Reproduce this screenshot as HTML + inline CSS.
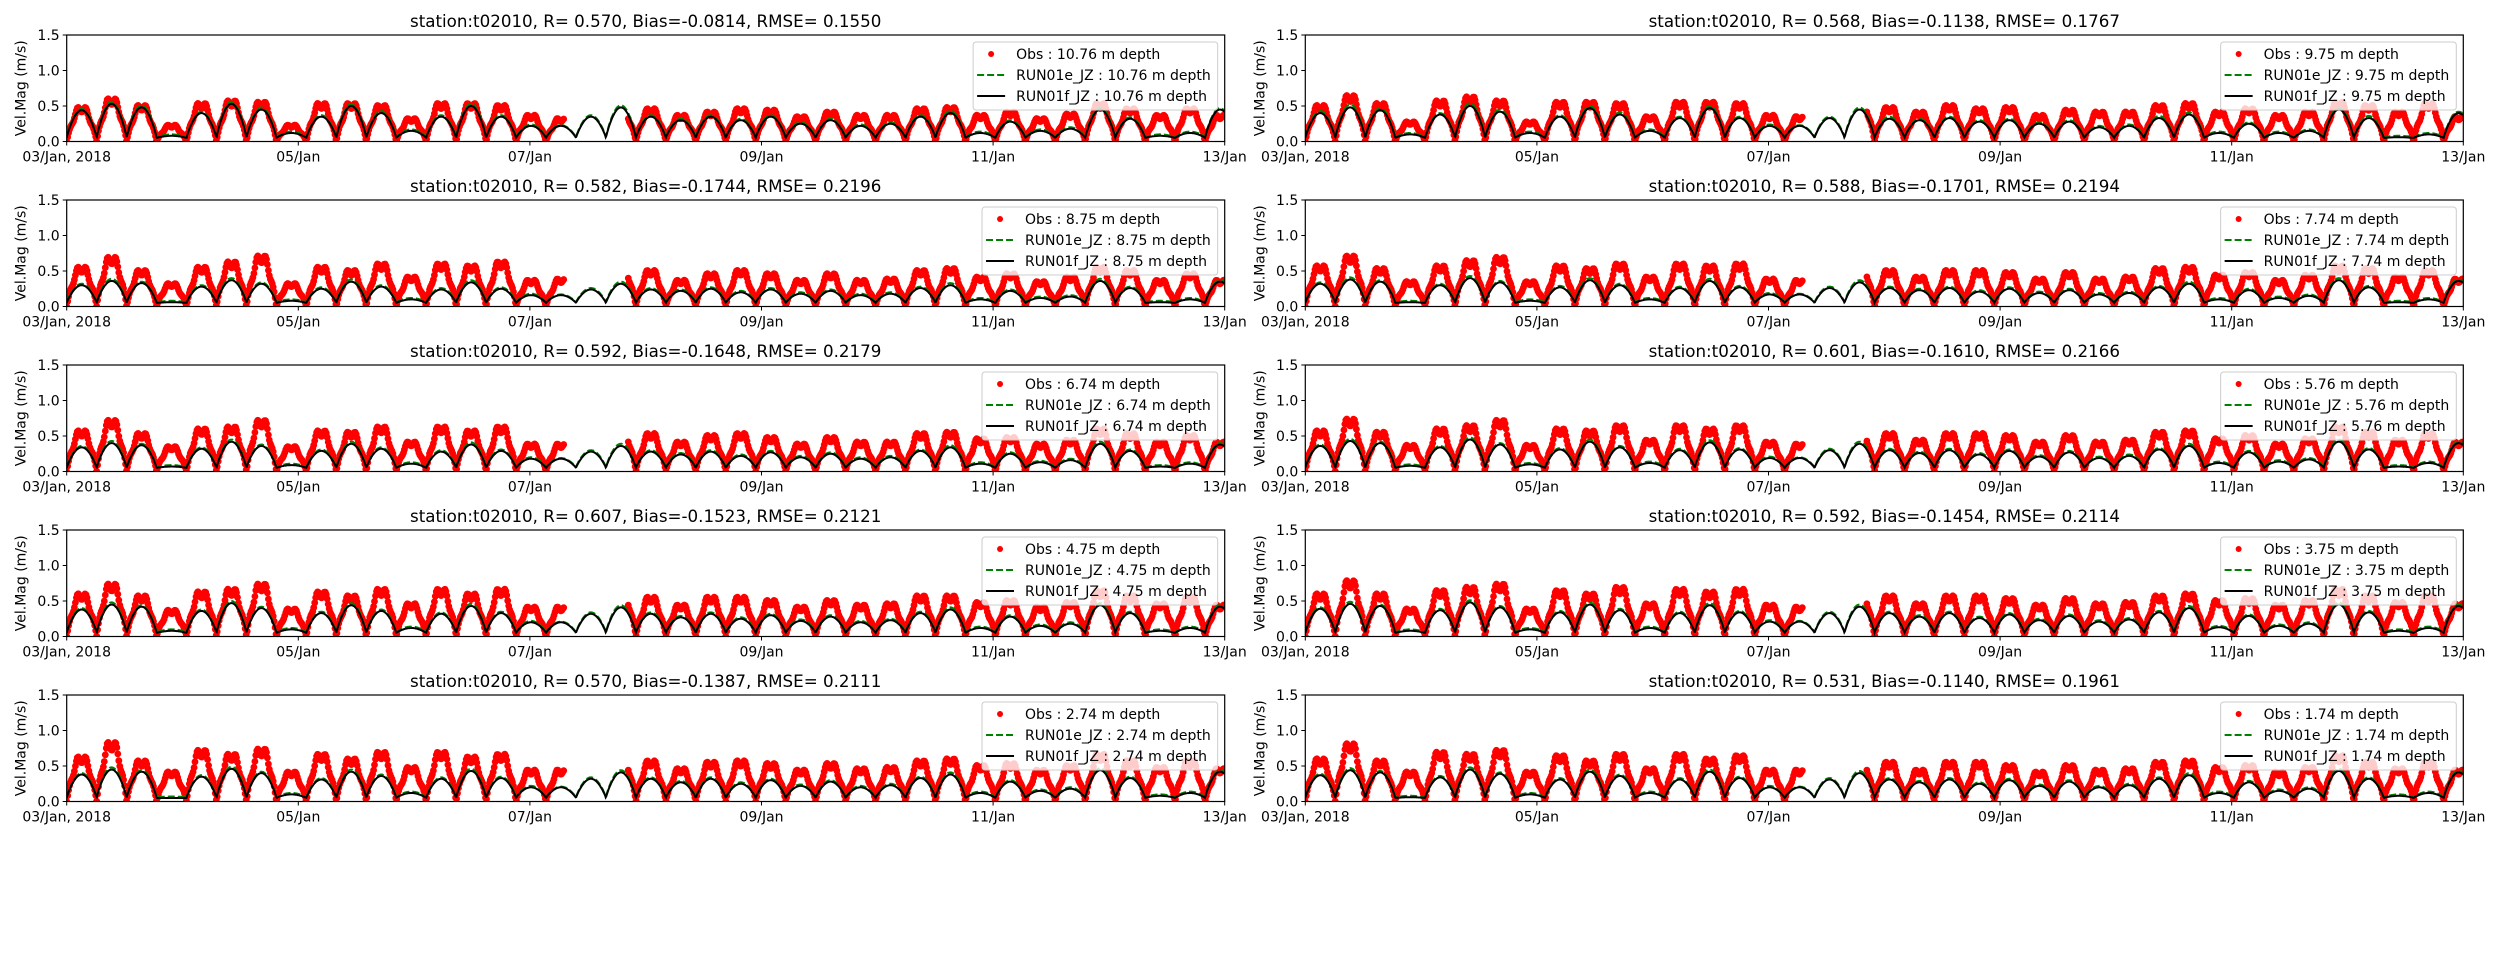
<!DOCTYPE html>
<html><head><meta charset="utf-8"><style>
html,body{margin:0;padding:0;background:#fff}
svg{display:block;font-family:"DejaVu Sans","Liberation Sans",sans-serif}
</style></head><body>
<svg id="fig" width="2500" height="980" viewBox="0 0 2500 980" xmlns="http://www.w3.org/2000/svg"></svg>
<script>
const depths = ["10.76","9.75","8.75","7.74","6.74","5.76","4.75","3.75","2.74","1.74"];
const statR = ["0.570","0.568","0.582","0.588","0.592","0.601","0.607","0.592","0.570","0.531"];
const statBias = ["-0.0814","-0.1138","-0.1744","-0.1701","-0.1648","-0.1610","-0.1523","-0.1454","-0.1387","-0.1140"];
const statRMSE = ["0.1550","0.1767","0.2196","0.2194","0.2179","0.2166","0.2121","0.2114","0.2111","0.1961"];
const yTicks = [0, 0.5, 1.0, 1.5];
const yTickLabels = ["0.0","0.5","1.0","1.5"];
const xTickDays = [0, 2, 4, 6, 8, 10];
const xTickLabels = ["03/Jan, 2018","05/Jan","07/Jan","09/Jan","11/Jan","13/Jan"];
const lobeDays = 0.2587;
const obsGap = [4.3, 4.85];
const modF = [
[.44,.53,.48,.08,.40,.53,.45,.12,.35,.50,.40,.15,.35,.50,.35,.22,.22,.35,.48,.35,.30,.35,.30,.35,.25,.30,.22,.25,.35,.40,.12,.28,.15,.18,.45,.32,.08,.12,.45],
[.40,.48,.44,.10,.38,.50,.42,.12,.35,.47,.38,.15,.33,.47,.33,.22,.22,.33,.45,.32,.30,.33,.28,.30,.25,.28,.20,.22,.33,.38,.12,.25,.12,.15,.45,.33,.06,.10,.40],
[.30,.36,.33,.06,.28,.37,.32,.08,.25,.35,.28,.10,.24,.34,.25,.16,.16,.24,.32,.24,.22,.25,.20,.24,.18,.22,.16,.18,.26,.30,.10,.22,.12,.14,.36,.26,.06,.10,.35],
[.32,.38,.35,.06,.30,.40,.34,.08,.27,.37,.30,.10,.26,.36,.27,.17,.17,.26,.34,.26,.23,.26,.21,.25,.19,.23,.17,.19,.27,.32,.10,.23,.12,.15,.37,.27,.06,.10,.36],
[.34,.40,.37,.07,.32,.42,.36,.09,.29,.39,.32,.11,.28,.38,.29,.18,.18,.28,.36,.28,.24,.28,.22,.27,.20,.25,.18,.20,.29,.34,.11,.25,.13,.16,.39,.29,.07,.11,.38],
[.36,.43,.40,.08,.34,.45,.38,.10,.31,.42,.34,.12,.30,.41,.31,.19,.19,.30,.39,.30,.26,.30,.24,.29,.21,.27,.19,.22,.31,.36,.12,.27,.14,.17,.42,.31,.07,.12,.40],
[.38,.45,.42,.08,.36,.47,.40,.10,.33,.44,.36,.12,.32,.43,.33,.20,.20,.32,.41,.32,.27,.32,.25,.30,.22,.28,.20,.23,.33,.38,.12,.28,.15,.18,.44,.33,.08,.12,.42],
[.39,.46,.43,.08,.37,.48,.41,.10,.34,.45,.37,.12,.33,.44,.34,.21,.21,.33,.42,.33,.28,.33,.26,.31,.23,.29,.21,.24,.34,.40,.13,.29,.15,.18,.45,.34,.08,.12,.43],
[.38,.45,.42,.05,.35,.46,.40,.10,.31,.42,.36,.12,.32,.43,.33,.20,.20,.32,.41,.32,.27,.32,.25,.30,.22,.28,.20,.23,.33,.38,.12,.28,.15,.18,.44,.33,.08,.12,.42],
[.37,.44,.41,.06,.34,.45,.39,.10,.31,.42,.36,.12,.31,.42,.33,.20,.20,.31,.40,.31,.27,.31,.25,.30,.22,.28,.20,.23,.32,.37,.12,.27,.15,.18,.43,.32,.08,.12,.41]
];
const modE = [
[.46,.56,.51,.10,.42,.56,.48,.14,.37,.53,.43,.17,.37,.53,.37,.24,.23,.37,.51,.37,.32,.37,.32,.37,.27,.32,.24,.27,.37,.43,.14,.30,.17,.20,.48,.34,.10,.14,.47],
[.43,.52,.47,.12,.40,.54,.45,.14,.37,.50,.41,.17,.35,.50,.35,.24,.23,.35,.48,.35,.32,.35,.30,.32,.27,.30,.22,.24,.36,.41,.14,.27,.14,.17,.48,.36,.08,.12,.42],
[.32,.39,.35,.08,.30,.40,.34,.10,.27,.38,.30,.12,.26,.37,.27,.18,.17,.26,.35,.26,.24,.27,.22,.26,.20,.24,.18,.20,.28,.33,.12,.24,.14,.16,.39,.28,.08,.12,.37],
[.34,.41,.37,.08,.32,.43,.36,.10,.29,.40,.32,.12,.28,.39,.29,.19,.18,.28,.37,.28,.25,.28,.23,.27,.21,.25,.19,.21,.29,.35,.12,.25,.14,.17,.40,.29,.08,.12,.38],
[.36,.43,.39,.09,.34,.45,.38,.11,.31,.42,.34,.13,.30,.41,.31,.20,.19,.30,.39,.30,.26,.30,.24,.29,.22,.27,.20,.22,.31,.37,.13,.27,.15,.18,.42,.31,.09,.13,.40],
[.38,.46,.42,.10,.36,.48,.40,.12,.33,.45,.36,.14,.32,.44,.33,.21,.20,.32,.42,.32,.28,.32,.26,.31,.23,.29,.21,.24,.33,.39,.14,.29,.16,.19,.45,.33,.09,.14,.42],
[.40,.48,.44,.10,.38,.50,.42,.12,.35,.47,.38,.14,.34,.46,.35,.22,.21,.34,.44,.34,.29,.34,.27,.32,.24,.30,.22,.25,.35,.41,.14,.30,.17,.20,.47,.35,.10,.14,.44],
[.41,.49,.45,.10,.39,.51,.43,.12,.36,.48,.39,.14,.35,.47,.36,.23,.22,.35,.45,.35,.30,.35,.28,.33,.25,.31,.23,.26,.36,.43,.15,.31,.17,.20,.48,.36,.10,.14,.45],
[.40,.48,.44,.07,.37,.49,.42,.12,.33,.45,.38,.14,.34,.46,.35,.22,.21,.34,.44,.34,.29,.34,.27,.32,.24,.30,.22,.25,.35,.41,.14,.30,.17,.20,.47,.35,.10,.14,.44],
[.39,.47,.43,.08,.36,.48,.41,.12,.33,.45,.38,.14,.33,.45,.35,.22,.21,.33,.43,.33,.29,.33,.27,.32,.24,.30,.22,.25,.34,.40,.14,.29,.17,.20,.46,.34,.10,.14,.43]
];
const obsPk = [
[.52,.65,.55,.25,.58,.62,.60,.25,.58,.58,.55,.35,.58,.58,.55,.40,.35,.38,.52,.50,.40,.45,.50,.48,.38,.45,.40,.40,.50,.52,.40,.45,.35,.42,.58,.50,.40,.50,.40],
[.55,.70,.58,.30,.62,.68,.62,.30,.60,.60,.58,.38,.60,.60,.58,.40,.38,.40,.68,.52,.45,.55,.50,.52,.40,.48,.45,.45,.55,.58,.45,.50,.40,.45,.60,.55,.45,.58,.38],
[.60,.75,.55,.35,.60,.68,.77,.35,.60,.55,.65,.45,.65,.62,.68,.40,.42,.35,.65,.55,.40,.50,.55,.50,.40,.50,.40,.42,.55,.58,.45,.50,.38,.45,.60,.55,.40,.50,.40],
[.62,.77,.58,.38,.62,.70,.75,.38,.62,.58,.65,.45,.65,.62,.65,.42,.40,.38,.68,.55,.45,.55,.55,.52,.42,.52,.42,.45,.58,.60,.48,.52,.40,.48,.62,.58,.45,.55,.42],
[.62,.78,.58,.38,.65,.68,.78,.38,.62,.60,.68,.45,.68,.62,.68,.42,.42,.38,.68,.58,.45,.55,.58,.52,.42,.52,.45,.45,.58,.60,.50,.52,.42,.48,.65,.58,.45,.55,.45],
[.62,.80,.60,.40,.65,.70,.78,.40,.65,.62,.70,.48,.70,.65,.70,.45,.42,.40,.70,.58,.48,.58,.58,.55,.45,.55,.45,.48,.60,.62,.50,.55,.42,.50,.68,.60,.48,.58,.45],
[.65,.80,.62,.40,.68,.72,.80,.42,.68,.62,.72,.50,.72,.65,.72,.45,.45,.40,.72,.60,.48,.60,.60,.55,.45,.55,.48,.50,.62,.62,.52,.55,.45,.52,.70,.62,.50,.60,.48],
[.65,.85,.65,.42,.70,.75,.80,.42,.70,.65,.75,.50,.72,.68,.72,.48,.45,.42,.75,.62,.50,.62,.62,.58,.48,.58,.50,.52,.62,.65,.55,.58,.48,.55,.72,.62,.52,.62,.50],
[.68,.90,.62,.45,.78,.72,.80,.45,.72,.65,.75,.52,.75,.68,.72,.48,.48,.42,.72,.62,.50,.60,.62,.58,.48,.58,.50,.52,.62,.65,.55,.58,.48,.55,.72,.62,.52,.62,.50],
[.65,.88,.62,.45,.75,.72,.78,.45,.70,.62,.72,.50,.72,.65,.70,.48,.48,.42,.72,.60,.48,.60,.60,.55,.45,.55,.48,.50,.60,.62,.52,.55,.45,.52,.70,.60,.50,.60,.48]
];

const NS = "http://www.w3.org/2000/svg";
const svg = document.getElementById('fig');
function mk(tag, attrs, parent){
  const e = document.createElementNS(NS, tag);
  for (const k in attrs) e.setAttribute(k, attrs[k]);
  (parent||svg).appendChild(e);
  return e;
}
const colX = [66.7, 1305.3];
const plotW = 1158;
const plotH = 106.5;
const rowTop = [35, 200, 365, 530, 695];
const nDays = 10;

function lobeVal(peaks, t, minV, pw){
  const k = Math.floor(t / lobeDays);
  const u = (t - k*lobeDays)/lobeDays;
  const p = peaks[Math.min(k, peaks.length-1)];
  return minV + (p-minV)*Math.pow(Math.sin(Math.PI*u), pw);
}

for (let p = 0; p < 10; p++) {
  const col = p % 2, row = Math.floor(p/2);
  const x0 = colX[col], y0 = rowTop[row];
  const xs = d => x0 + d/nDays*plotW;
  const ys = v => y0 + plotH - v/1.5*plotH;
  const g = mk('g', {});
  
  
  const cid = 'clip'+p;
  const cp = mk('clipPath', {id: cid}, g);
  mk('rect', {x: x0, y: y0, width: plotW, height: plotH}, cp);
  const og = mk('g', {'clip-path': 'url(#'+cid+')', fill: '#ff0000'}, g);
  
  
  for (let t = 0; t <= nDays; t += 1/120) {
    if (t > obsGap[0] && t < obsGap[1]) continue;
    const k = Math.floor(t / lobeDays);
    const u = (t - k*lobeDays)/lobeDays;
    const pk = obsPk[p][Math.min(k, obsPk[p].length-1)];
    let v = pk*Math.pow(Math.sin(Math.PI*u), 0.9)*(0.9+0.1*Math.sin(u*Math.PI*7));
    mk('circle', {cx: xs(t).toFixed(1), cy: ys(v).toFixed(1), r: 3.4}, og);
  }
  function linePath(arr, minV){
    let d = '';
    for (let t = 0; t <= nDays; t += 0.005) {
      d += (d ? 'L' : 'M') + xs(t).toFixed(1) + ',' + ys(lobeVal(arr, t, minV, 0.85)).toFixed(1);
    }
    return d;
  }
  const le = mk('path', {d: linePath(modE[p], 0.06), fill: 'none', stroke: '#008000', 'stroke-width': 2, 'stroke-dasharray': '7,3', 'clip-path': 'url(#'+cid+')'}, g);
  
  
  const lf = mk('path', {d: linePath(modF[p], 0.05), fill: 'none', stroke: '#000', 'stroke-width': 2, 'clip-path': 'url(#'+cid+')'}, g);
  
  
  const fr = mk('rect', {x: x0, y: y0, width: plotW, height: plotH, fill: 'none', stroke: '#000', 'stroke-width': 1.2}, g);
  
  
  yTicks.forEach((v, i) => {
    mk('line', {x1: x0-4, x2: x0, y1: ys(v), y2: ys(v), stroke: '#000', 'stroke-width': 1}, g);
    const tx = mk('text', {x: x0-7, y: ys(v)+5, 'text-anchor': 'end', 'font-size': 14}, g);
    tx.textContent = yTickLabels[i];
    
    
  });
  xTickDays.forEach((d, i) => {
    mk('line', {x1: xs(d), x2: xs(d), y1: y0+plotH, y2: y0+plotH+4, stroke: '#000', 'stroke-width': 1}, g);
    const tx = mk('text', {x: xs(d), y: y0+plotH+20, 'text-anchor': 'middle', 'font-size': 14}, g);
    tx.textContent = xTickLabels[i];
    
    
  });
  const yl = mk('text', {x: 0, y: 0, 'text-anchor': 'middle', 'font-size': 14, transform: 'translate('+(x0-41)+','+(y0+plotH/2)+') rotate(-90)'}, g);
  yl.textContent = 'Vel.Mag (m/s)';
  
  
  const ti = mk('text', {x: x0+plotW/2, y: y0-8, 'text-anchor': 'middle', 'font-size': 16.7}, g);
  ti.textContent = 'station:t02010, R= ' + statR[p] + ', Bias=' + statBias[p] + ', RMSE= ' + statRMSE[p];
  
  
  const lg = mk('g', {}, g);
  
  
  const box = mk('rect', {rx: 3, fill: '#fff', 'fill-opacity': 0.8, stroke: '#cccccc', 'stroke-width': 1}, lg);
  const labels = ['Obs : ' + depths[p] + ' m depth', 'RUN01e_JZ : ' + depths[p] + ' m depth', 'RUN01f_JZ : ' + depths[p] + ' m depth'];
  const texts = labels.map((s, i) => {
    const t = mk('text', {x: 0, y: y0 + 24 + i*21, 'font-size': 14}, lg);
    t.textContent = s;
    
    
    return t;
  });
  let maxW = 0;
  texts.forEach(t => { maxW = Math.max(maxW, t.getComputedTextLength()); });
  const bw = maxW + 50, bx = x0 + plotW - 7 - bw, by = y0 + 7;
  box.setAttribute('x', bx); box.setAttribute('y', by);
  box.setAttribute('width', bw); box.setAttribute('height', 68);
  texts.forEach(t => t.setAttribute('x', bx + 43));
  mk('circle', {cx: bx+18, cy: by+12, r: 3, fill: '#ff0000'}, lg);
  mk('line', {x1: bx+4, x2: bx+32, y1: by+33, y2: by+33, stroke: '#008000', 'stroke-width': 2, 'stroke-dasharray': '7,3'}, lg);
  mk('line', {x1: bx+4, x2: bx+32, y1: by+54, y2: by+54, stroke: '#000', 'stroke-width': 2}, lg);
}
</script>
</body></html>
